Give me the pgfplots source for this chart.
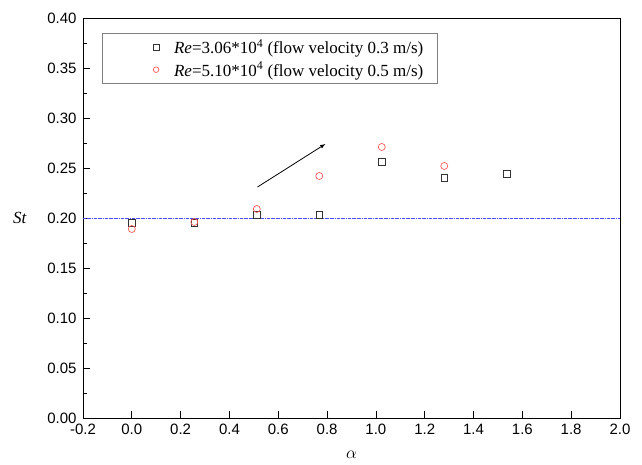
\documentclass[border=0pt]{standalone}
\usepackage{fontspec}
\setmainfont{Liberation Serif}
\setsansfont{Liberation Sans}
\usepackage{pgfplots}
\pgfplotsset{compat=1.18}
\definecolor{sqc}{HTML}{333333}
\definecolor{cic}{HTML}{FF5A5A}
\begin{document}
\begin{tikzpicture}
\begin{axis}[
  scale only axis,
  width=537pt, height=400pt,
  xmin=-0.2, xmax=2.0, ymin=0, ymax=0.40,
  xtick={-0.2,0,0.2,...,2.0},
  ytick={0,0.05,...,0.40},
  minor x tick num=1, minor y tick num=1,
  tick pos=left, tick align=inside,
  major tick length=7pt, minor tick length=4pt,
  tick style={black, line width=0.8pt},
  axis line style={line width=0.9pt},
  /pgf/number format/assume math mode=true,
  xticklabel style={font=\sffamily\fontsize{15}{15}\selectfont, yshift=-3pt, /pgf/number format/.cd, fixed, fixed zerofill, precision=1},
  yticklabel style={font=\sffamily\fontsize{15}{15}\selectfont, xshift=-3pt, /pgf/number format/.cd, fixed, fixed zerofill, precision=2},
  xlabel={$\alpha$},
  xlabel style={font=\fontsize{18}{18}\selectfont, yshift=-9pt},
  ylabel={\textit{St}},
  ylabel style={font=\fontsize{17}{17}\selectfont, rotate=-90, at={(rel axis cs:0,0.5)}, anchor=center, xshift=-63pt},
  clip=false,
  legend style={at={(rel axis cs:0.035,0.9625)}, anchor=north west, draw=gray, line width=0.6pt,
    font=\fontsize{17}{19}\selectfont, inner xsep=4pt, inner ysep=4pt, row sep=3pt,
    /tikz/every even column/.append style={column sep=0pt}},
  legend cell align=left,
  legend image code/.code={\path[draw=none] (0pt,0pt) -- (66pt,0pt); \draw[#1, mark size=2.8pt] plot coordinates {(50pt,0pt)};},
]
\addplot[sqc, only marks, mark=square, mark size=3.2pt, mark options={line width=0.7pt}] coordinates {
  (0,0.195) (0.256,0.195) (0.512,0.203) (0.768,0.203) (1.024,0.256) (1.28,0.240) (1.536,0.244)
};
\addlegendentry{\textit{Re}=3.06*10\textsuperscript{4} (flow velocity 0.3 m/s)\hspace*{8pt}}
\addplot[cic, only marks, mark=o, mark size=3.5pt, mark options={line width=0.7pt}] coordinates {
  (0,0.189) (0.256,0.196) (0.512,0.209) (0.768,0.242) (1.024,0.271) (1.28,0.252)
};
\addlegendentry{\textit{Re}=5.10*10\textsuperscript{4} (flow velocity 0.5 m/s)\hspace*{8pt}}
\addplot[blue!70, densely dash dot, line width=0.6pt, forget plot] coordinates {(-0.2,0.2) (2.0,0.2)};
\draw[-latex, line width=0.8pt] (axis cs:0.515,0.231) -- (axis cs:0.793,0.274);
\path (rel axis cs:-0.1546,-0.1175) rectangle (rel axis cs:1.041,1.045);
\end{axis}
\end{tikzpicture}
\end{document}
